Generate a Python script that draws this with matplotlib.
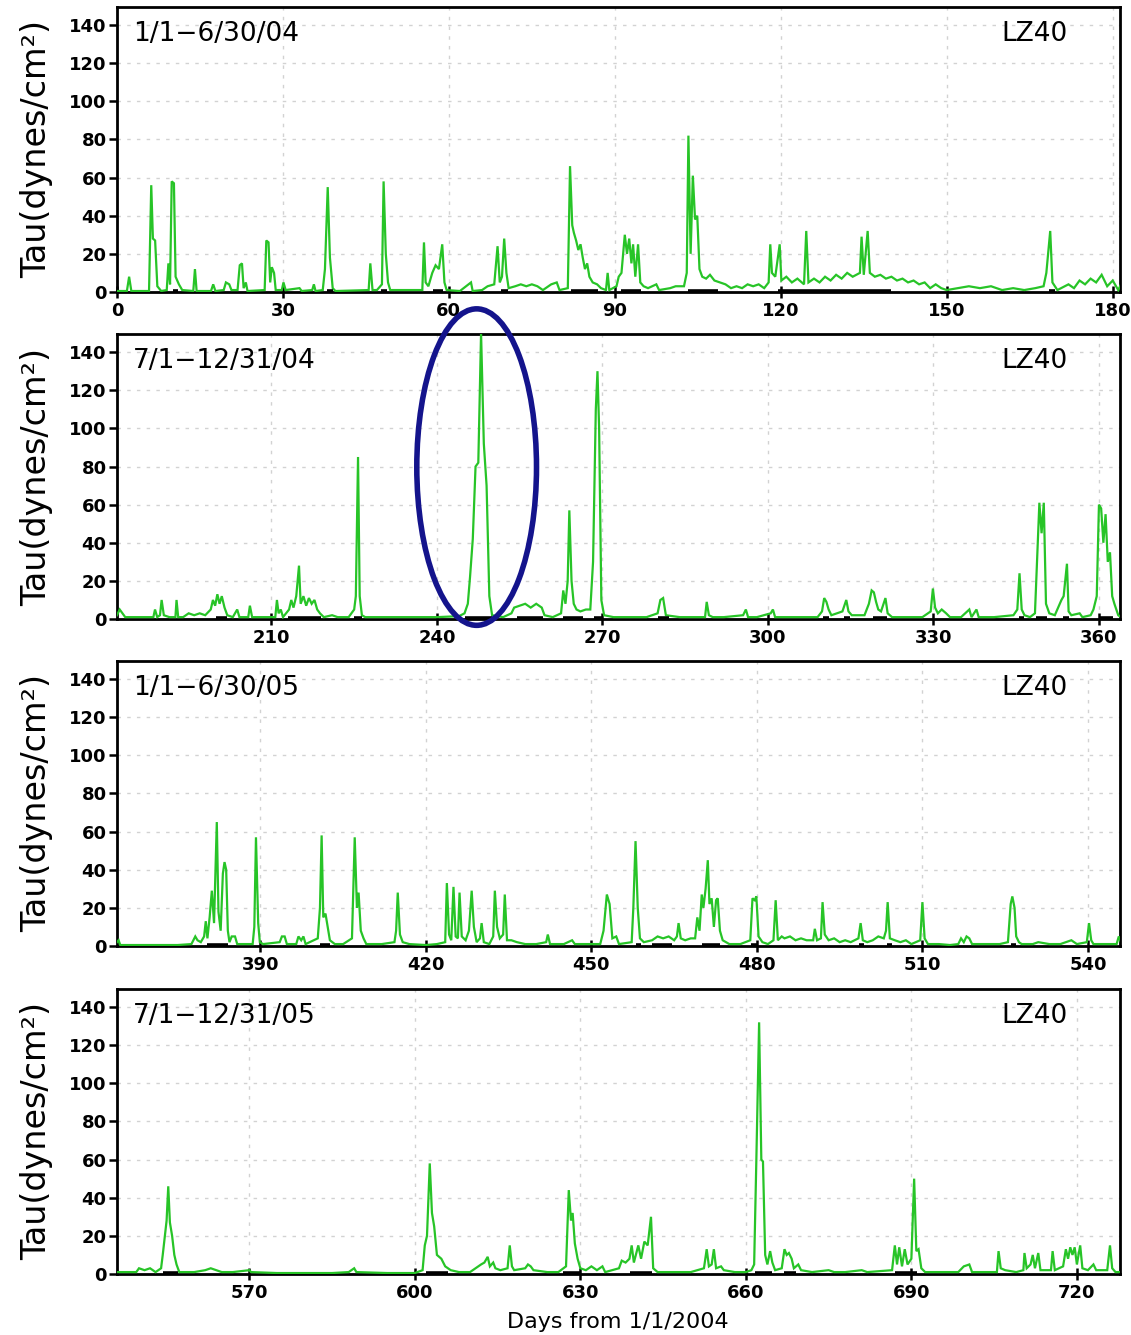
import matplotlib
matplotlib.use("Agg")
import matplotlib.pyplot as plt
from matplotlib.patches import Ellipse

plt.rcParams['font.family'] = ['DejaVu Sans']

# ---------------- data (day, tau in dynes/cm^2) ----------------
p1_points = [
    (0, 0.5), (1.8, 0.5), (2.2, 8), (2.6, 0.5), (5.8, 0.5), (6.2, 56), (6.5, 28), (6.9, 27), (7.3, 3),
    (8.0, 0.5), (9.0, 1), (9.3, 15), (9.6, 4), (9.9, 58), (10.3, 57), (10.6, 8), (11.2, 4), (11.8, 1),
    (13.8, 0.5), (14.1, 12), (14.4, 0.5), (17.0, 0.5), (17.4, 4), (17.8, 0.5), (19.3, 1), (19.7, 5),
    (20.3, 4), (20.7, 1), (21.8, 1), (22.2, 14), (22.6, 15), (22.9, 2), (23.3, 5), (23.6, 0.5),
    (26.7, 1), (27.0, 27), (27.4, 26), (27.7, 5), (28.0, 13), (28.4, 10), (28.7, 1), (29.8, 1),
    (30.1, 5), (30.5, 1), (33.0, 2), (33.4, 0.5), (35.3, 1), (35.6, 4), (35.9, 0.5), (37.2, 1),
    (37.6, 12), (38.1, 55), (38.5, 18), (39.0, 2), (39.5, 0.5), (45.5, 1), (45.8, 15), (46.2, 1),
    (47.0, 1), (47.9, 4), (48.2, 58), (48.6, 20), (49.0, 5), (49.4, 1), (53, 1), (55.2, 1), (55.5, 26),
    (55.8, 5), (56.3, 3), (57.0, 10), (57.6, 14), (58.2, 12), (58.8, 25), (59.2, 5), (59.6, 1),
    (62.0, 0.5), (64.0, 5), (64.3, 0.5), (66, 1), (67, 3), (68.2, 4), (68.8, 24), (69.2, 5), (69.6, 8),
    (70.0, 28), (70.4, 10), (70.8, 2), (72, 3), (73, 4), (74, 3), (75, 4), (76, 3), (77, 1), (78.5, 4),
    (79.5, 5), (80, 1), (81.5, 2), (81.9, 66), (82.3, 35), (82.6, 31), (83.0, 27), (83.4, 22),
    (83.8, 25), (84.2, 18), (84.6, 12), (85.0, 15), (85.4, 8), (86.0, 5), (86.8, 4), (87.5, 2),
    (88.4, 1), (88.7, 10), (89.0, 1), (90.3, 3), (90.7, 8), (91.2, 10), (91.8, 30), (92.2, 20),
    (92.6, 28), (93.0, 15), (93.3, 25), (93.7, 8), (94.2, 25), (94.6, 5), (95.2, 3), (96, 2),
    (97.5, 4), (98, 1), (100, 2), (101, 3), (102.5, 3), (103.0, 10), (103.3, 82), (103.7, 20),
    (104.1, 61), (104.5, 38), (104.9, 40), (105.3, 12), (105.8, 8), (106.5, 7), (107.2, 9), (108, 6),
    (109, 5), (110, 4), (111, 2), (112, 3), (113, 2), (114, 4), (115, 3), (116, 4), (117, 2),
    (117.8, 5), (118.1, 25), (118.4, 10), (119.0, 8), (119.8, 25), (120.1, 6), (121, 8), (122, 5),
    (123, 7), (124.2, 4), (124.6, 32), (125.0, 5), (126, 7), (127, 5), (128, 8), (129, 6), (130, 9),
    (131, 7), (132, 10), (133, 8), (134.3, 10), (134.6, 29), (135.0, 9), (135.7, 32), (136.1, 10),
    (137, 8), (138, 9), (139, 7), (140, 8), (141, 6), (142, 7), (143, 5), (144, 6), (145, 4), (146, 5),
    (147, 2), (148, 4), (149, 2), (150, 1), (152, 2), (154, 3), (156, 2), (158, 3), (160, 1), (162, 2),
    (164, 1), (166, 2), (167.5, 3), (168.0, 10), (168.7, 32), (169.1, 5), (170, 1), (172, 4), (173, 2),
    (174, 6), (175, 4), (176, 7), (177, 5), (178, 9), (179, 3), (180, 6), (181, 1), (181.5, 4),
]

p2_points = [
    (182.0, 2), (182.5, 5), (183, 3), (183.5, 1), (186, 1), (188.6, 1), (188.9, 5), (189.3, 1),
    (189.8, 2), (190.1, 10), (190.5, 2), (191.5, 1), (192.6, 1), (192.8, 10), (193.1, 1), (194, 1),
    (195, 3), (196, 2), (197, 3), (198, 2), (199.0, 5), (199.4, 10), (199.8, 7), (200.2, 13),
    (200.6, 8), (201.0, 12), (201.5, 6), (202, 2), (203, 1), (203.8, 5), (204.2, 1), (205.8, 1),
    (206.1, 7), (206.5, 1), (209, 1), (210.7, 1), (211.0, 10), (211.3, 3), (211.7, 5), (212.1, 1),
    (213.2, 5), (213.6, 10), (214.0, 6), (214.5, 12), (215.0, 28), (215.3, 8), (215.8, 12),
    (216.3, 7), (216.8, 11), (217.3, 8), (217.8, 10), (218.3, 5), (218.8, 3), (219.5, 1), (221, 2),
    (222, 1), (224, 1), (225.0, 5), (225.3, 12), (225.7, 85), (226.0, 12), (226.4, 2), (227, 1),
    (230, 1), (235, 1), (240, 1), (244, 1.5), (245.0, 3), (245.6, 8), (246.0, 22), (246.5, 42),
    (247.0, 80), (247.5, 82), (248.0, 150), (248.5, 92), (249.0, 70), (249.5, 12), (250.0, 2),
    (252, 1), (253.5, 3), (254.0, 6), (255, 7), (256, 8), (257, 6), (258, 8), (259, 6), (259.5, 2),
    (261, 1), (262.5, 3), (262.9, 15), (263.3, 8), (263.7, 20), (264.0, 57), (264.4, 20), (264.8, 8),
    (265.3, 5), (266, 4), (267, 5), (267.8, 5), (268.3, 30), (268.8, 110), (269.1, 130), (269.4, 100),
    (269.8, 10), (270.3, 2), (272, 1), (275, 1), (278, 1), (280.0, 3), (280.5, 10), (281.0, 11),
    (281.5, 2), (284, 1), (288.6, 1), (288.9, 9), (289.3, 2), (290, 1), (292, 1), (295.5, 2),
    (296.0, 5), (296.4, 1), (298, 1), (300.5, 3), (300.9, 5), (301.3, 1), (305, 1), (309, 1),
    (309.8, 4), (310.2, 11), (310.6, 9), (311.0, 5), (311.5, 2), (312.5, 3), (313.5, 4), (314.2, 10),
    (314.6, 4), (315.2, 2), (317.5, 2), (318.3, 8), (318.8, 15), (319.2, 14), (319.6, 9), (320.0, 5),
    (320.5, 4), (321.3, 11), (321.7, 3), (322.5, 1), (325, 1), (328, 1), (329.5, 4), (329.9, 16),
    (330.3, 6), (330.8, 3), (331.5, 5), (332.3, 3), (333, 1), (335, 1), (336.5, 5), (336.9, 1),
    (337.8, 5), (338.2, 1), (341, 1), (344.5, 2), (345.2, 5), (345.6, 24), (346.0, 5), (346.5, 2),
    (347.5, 1), (348.4, 3), (348.9, 40), (349.2, 61), (349.6, 45), (350.0, 61), (350.4, 8), (351, 3),
    (352, 2), (353.2, 10), (353.6, 12), (354.2, 29), (354.5, 4), (355, 2), (356.5, 3), (357, 1),
    (358.5, 2), (359.0, 5), (359.6, 12), (360.0, 60), (360.4, 58), (360.8, 40), (361.2, 55),
    (361.6, 30), (362.0, 35), (362.4, 12), (362.8, 8), (363.5, 2), (364, 1),
]

p3_points = [
    (364.0, 2), (364.3, 3), (364.6, 0.5), (370, 0.5), (375, 0.5), (377.5, 1), (378.2, 5), (378.6, 3),
    (379.2, 2), (379.8, 5), (380.1, 13), (380.4, 4), (380.8, 15), (381.2, 29), (381.6, 12),
    (382.1, 65), (382.4, 18), (382.8, 8), (383.2, 38), (383.5, 44), (383.8, 40), (384.1, 8),
    (384.4, 2), (384.8, 5), (385.4, 5), (385.8, 1), (388.6, 1), (388.9, 10), (389.2, 57), (389.6, 12),
    (389.9, 2), (390.5, 1), (393.5, 2), (393.9, 5), (394.4, 5), (394.8, 1), (396.5, 1), (396.9, 5),
    (397.4, 3), (397.8, 5), (398.2, 1), (400.4, 4), (400.8, 20), (401.1, 58), (401.4, 15),
    (401.8, 17), (402.2, 10), (402.6, 3), (403.5, 1), (405, 1), (406.6, 4), (407.1, 57), (407.5, 20),
    (407.8, 28), (408.2, 8), (408.7, 4), (409.2, 1), (412, 1), (414.3, 2), (414.6, 8), (414.9, 28),
    (415.3, 6), (415.8, 2), (417, 1), (420, 0.5), (422, 1), (423.5, 2), (423.8, 33), (424.2, 6),
    (424.6, 3), (425.0, 31), (425.4, 5), (425.8, 4), (426.1, 28), (426.5, 5), (427.2, 3), (427.8, 8),
    (428.3, 29), (428.7, 10), (429.2, 2), (429.8, 4), (430.1, 12), (430.5, 2), (431.5, 1), (432.2, 5),
    (432.5, 29), (432.9, 10), (433.4, 4), (434.0, 6), (434.3, 27), (434.7, 3), (435.5, 3), (436.5, 2),
    (438, 1), (440, 1), (441.8, 2), (442.1, 6), (442.5, 1), (445, 1), (446.5, 3), (447, 1), (450, 1),
    (451.6, 1), (452.2, 8), (452.8, 27), (453.3, 22), (453.8, 4), (454.5, 5), (455, 1), (457.3, 2),
    (457.6, 20), (458.0, 55), (458.4, 20), (458.8, 4), (459.5, 2), (461, 3), (462, 5), (463, 4),
    (464, 5), (465, 3), (465.5, 5), (465.8, 12), (466.2, 4), (467, 3), (468, 4), (468.8, 4),
    (469.2, 15), (469.6, 8), (470.0, 27), (470.3, 20), (470.7, 30), (471.1, 45), (471.4, 22),
    (471.8, 25), (472.2, 10), (472.6, 24), (472.9, 25), (473.3, 8), (473.8, 3), (475, 1), (477, 1),
    (478.8, 3), (479.2, 25), (479.6, 24), (479.9, 26), (480.3, 5), (481, 2), (482, 1), (483.0, 3),
    (483.4, 24), (483.8, 3), (484.5, 5), (485, 4), (486, 5), (487, 3), (488, 4), (489, 3), (490.2, 3),
    (490.5, 9), (490.9, 3), (491.6, 4), (491.9, 23), (492.3, 6), (493, 3), (494, 4), (495, 2),
    (496, 3), (497, 2), (498.4, 4), (498.8, 12), (499.2, 3), (500, 2), (501, 3), (502, 5), (503.0, 4),
    (503.4, 8), (503.7, 23), (504.1, 4), (505, 3), (506, 2), (507, 3), (508, 1), (509.6, 3),
    (510.0, 23), (510.4, 4), (511, 1), (513, 1), (515, 0.5), (516.5, 1), (517, 4), (517.5, 2),
    (518, 5), (518.5, 4), (519, 1), (521, 1), (524, 1), (525.5, 2), (526.0, 22), (526.3, 26),
    (526.7, 20), (527.0, 5), (527.5, 2), (528, 1), (530, 1), (531, 2), (533, 1), (535, 1), (537, 3),
    (538, 1), (539.8, 2), (540.2, 12), (540.6, 3), (541, 1), (543, 1), (545.2, 1), (545.6, 5), (546, 2),
]

p4_points = [
    (546.0, 1), (548, 1), (549.5, 1), (550, 3), (551, 2), (552, 3), (553, 1), (554.0, 3), (554.3, 10),
    (554.7, 20), (555.0, 28), (555.3, 46), (555.6, 27), (556.0, 20), (556.4, 10), (556.8, 5),
    (557.3, 1), (560, 1), (562, 2), (563, 3), (564, 2), (565, 1), (567, 1), (570.0, 2), (570.3, 1),
    (575, 0.5), (580, 0.5), (585, 0.5), (588, 1), (589, 3), (589.4, 1), (595, 0.5), (600, 0.5),
    (601.4, 2), (601.8, 15), (602.2, 20), (602.7, 58), (603.1, 32), (603.5, 25), (604.0, 10),
    (604.8, 8), (605.5, 4), (606.5, 2), (608, 1), (610, 1), (611, 3), (612, 5), (612.6, 6),
    (613.2, 9), (613.6, 4), (614.2, 6), (614.6, 3), (615.5, 2), (616.8, 3), (617.2, 15), (617.6, 4),
    (618, 2), (620, 3), (620.5, 5), (621, 4), (621.5, 2), (624, 1), (626, 1), (627.4, 4), (627.9, 44),
    (628.3, 28), (628.6, 32), (629.0, 16), (629.5, 8), (630.0, 3), (631, 2), (632, 4), (633, 2),
    (634, 4), (634.5, 1), (637.0, 3), (637.5, 7), (638.2, 6), (638.9, 8), (639.3, 15), (639.7, 6),
    (640.5, 15), (641.0, 8), (641.6, 17), (642.2, 15), (642.8, 30), (643.2, 3), (644, 1), (647, 1),
    (650, 1), (652.4, 3), (652.9, 13), (653.3, 4), (653.8, 5), (654.2, 13), (654.6, 3), (655.5, 4),
    (656, 2), (658, 1), (660, 1), (661.0, 2), (661.5, 5), (661.9, 60), (662.4, 132), (662.8, 60),
    (663.1, 59), (663.5, 10), (663.9, 5), (664.4, 12), (664.8, 6), (665.3, 2), (666.5, 3), (667.0, 13),
    (667.4, 10), (667.8, 11), (668.3, 8), (668.7, 3), (669.5, 5), (670, 2), (672, 1), (675, 2),
    (676, 1), (678, 1), (681, 2), (682, 1), (686.5, 2), (687.0, 15), (687.4, 5), (687.8, 14),
    (688.3, 4), (688.8, 13), (689.3, 5), (690.0, 8), (690.5, 50), (690.9, 12), (691.3, 13), (691.8, 3),
    (692.5, 1), (695, 1), (698.5, 1), (699.5, 4), (700.5, 5), (701, 1), (705.5, 1), (705.8, 12),
    (706.2, 3), (707, 2), (709, 1), (710.3, 2), (710.5, 11), (710.9, 3), (711.6, 5), (712, 10),
    (712.4, 3), (713, 11), (713.4, 2), (715.3, 2), (715.6, 12), (716.0, 2), (717.5, 4), (718.0, 13),
    (718.4, 8), (718.8, 14), (719.2, 10), (719.6, 14), (720.0, 5), (720.6, 15), (721.0, 3), (722, 2),
    (723, 5), (723.5, 2), (725.5, 2), (726.0, 15), (726.4, 3), (727, 1), (728, 1),
]

# black bars along the zero line (event periods)
p1_marks = [(10.2, 11), (38, 39), (47.8, 48.8), (57.2, 59), (69.4, 70.6), (82, 87), (91.1, 94.7),
            (103.3, 108.7), (119.5, 140), (168.5, 169.5)]
p2_marks = [(200, 202), (213, 219), (225, 226.5), (245, 250), (254.5, 259.2), (262.8, 266.5),
            (268.5, 270), (280, 282), (310, 311), (313.8, 314.8), (319, 321.5), (345.5, 346.5),
            (348.5, 350.5), (353.5, 354.5), (360, 362.5)]
p3_marks = [(380.3, 384.1), (400.8, 402.6), (458, 459), (461, 464.7), (470, 473.3), (479, 480),
            (498.5, 499.5), (503.5, 504.5), (526, 527)]
p4_marks = [(554.3, 557), (602, 606), (626.8, 629.9), (639, 643), (661.7, 664.7), (667, 669),
            (687, 691)]

panel_points = [p1_points, p2_points, p3_points, p4_points]
panel_marks = [p1_marks, p2_marks, p3_marks, p4_marks]
panel_xlims = [(0, 181.3), (182, 363.8), (364, 545.8), (546, 727.8)]
panel_xticks = [[0, 30, 60, 90, 120, 150, 180],
                [210, 240, 270, 300, 330, 360],
                [390, 420, 450, 480, 510, 540],
                [570, 600, 630, 660, 690, 720]]
panel_periods = ['1/1\u22126/30/04', '7/1\u221212/31/04', '1/1\u22126/30/05', '7/1\u221212/31/05']
station = 'LZ40'
y_ticks = [0, 20, 40, 60, 80, 100, 120, 140]
y_label = 'Tau(dynes/cm\u00b2)'
x_label = 'Days from 1/1/2004'

# ---------------- figure ----------------
fig = plt.figure(figsize=(11.31, 13.35), dpi=100)
left, width, height = 0.1034, 0.8868, 0.2135
bottoms = [0.7813, 0.5363, 0.2914, 0.0457]
green = '#27c427'

axes = []
for i in range(4):
    ax = fig.add_axes([left, bottoms[i], width, height])
    axes.append(ax)
    xs = [p[0] for p in panel_points[i]]
    ys = [p[1] for p in panel_points[i]]
    ax.plot(xs, ys, color=green, lw=1.6, zorder=3, solid_joinstyle='miter')
    for (a, b) in panel_marks[i]:
        ax.plot([a, b], [0.3, 0.3], color='black', lw=2.6, zorder=4, solid_capstyle='butt')
    ax.set_xlim(*panel_xlims[i])
    ax.set_ylim(0, 149.5)
    ax.set_xticks(panel_xticks[i])
    ax.set_yticks(y_ticks)
    ax.grid(True, color='#d2d2d2', linestyle=(0, (2.5, 4.5)), linewidth=1.0, zorder=0)
    ax.set_axisbelow(True)
    for s in ax.spines.values():
        s.set_linewidth(2.0)
    ax.tick_params(axis='y', direction='out', length=6, width=1.8, pad=1.5, labelsize=13)
    ax.tick_params(axis='x', direction='inout', length=9, width=1.8, pad=3, labelsize=13)
    for lab in ax.get_xticklabels() + ax.get_yticklabels():
        lab.set_fontweight('bold')
    ax.set_ylabel(y_label, fontsize=24, va='center')
    ax.yaxis.set_label_coords(-0.080, 0.5)
    ax.text(0.016, 0.905, panel_periods[i], transform=ax.transAxes, fontsize=19,
            ha='left', va='center')
    ax.text(0.948, 0.905, station, transform=ax.transAxes, fontsize=19,
            ha='right', va='center')

# highlight ellipse on the second panel
axes[1].add_patch(Ellipse((247.2, 79.7), 21.7, 166, fill=False, edgecolor='#14148c',
                          lw=4.0, clip_on=False, zorder=10))

fig.text(0.546, 0.002, x_label, ha='center', va='bottom', fontsize=16)

fig.savefig('out.png', dpi=100)
